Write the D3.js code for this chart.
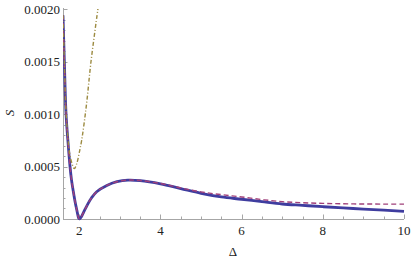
<!DOCTYPE html>
<html>
<head>
<meta charset="utf-8">
<script src="https://cdn.jsdelivr.net/npm/d3@7"></script>
<style>
  html, body { margin: 0; padding: 0; background: #fff; }
  svg { display: block; }
  text { font-family: "Liberation Serif", "DejaVu Serif", serif; }
</style>
</head>
<body>
<svg id="chart" width="411" height="261"></svg>
<script>
// ---- data ----
const xDomain = [1.6, 10];
const yDomain = [0, 0.002];
const xMajorTicks = [2, 4, 6, 8, 10];
const xMinorTicks = [2.5, 3, 3.5, 4.5, 5, 5.5, 6.5, 7, 7.5, 8.5, 9, 9.5];
const yMajorTicks = [0, 0.0005, 0.001, 0.0015, 0.002];
const yTickLabels = ["0.0000", "0.0005", "0.0010", "0.0015", "0.0020"];
const yMinorTicks = [0.0001, 0.0002, 0.0003, 0.0004, 0.0006, 0.0007, 0.0008, 0.0009,
                     0.0011, 0.0012, 0.0013, 0.0014, 0.0016, 0.0017, 0.0018, 0.0019];

const solidX = [1.6, 1.633, 1.675, 1.72, 1.773, 1.81, 1.855, 1.9, 1.94, 1.97, 1.99, 2.01, 2.04, 2.08, 2.13, 2.2, 2.3, 2.43, 2.68, 2.93, 3.2, 3.5, 4, 4.5, 5, 5.5, 6, 6.5, 7, 7.5, 8, 8.5, 9, 9.5, 10];
const solidY = [0.00194, 0.0015, 0.0010, 0.00075, 0.0005, 0.00037, 0.00026, 0.00016, 0.000085, 0.00003, 0.000006, 0.000002, 0.000014, 0.000042, 0.000082, 0.000135, 0.0002, 0.00026, 0.00032, 0.000355, 0.00037, 0.000365, 0.000335, 0.00029, 0.000245, 0.00021, 0.000188, 0.000165, 0.000143, 0.00013, 0.000117, 0.000105, 0.000095, 0.000084, 0.000073];

const dashedX = [1.6, 1.633, 1.675, 1.72, 1.773, 1.81, 1.855, 1.9, 1.94, 1.97, 1.99, 2.01, 2.04, 2.08, 2.13, 2.2, 2.3, 2.43, 2.68, 2.93, 3.2, 3.5, 4, 4.5, 5, 5.5, 6, 6.5, 7, 7.5, 8, 8.5, 9, 9.5, 10];
const dashedY = [0.00194, 0.0015, 0.0010, 0.00075, 0.0005, 0.00037, 0.00026, 0.00016, 0.000085, 0.00003, 0.000006, 0.000002, 0.000014, 0.000042, 0.000082, 0.000135, 0.0002, 0.00026, 0.00032, 0.000355, 0.00037, 0.000366, 0.000338, 0.000296, 0.000258, 0.000232, 0.00021, 0.000185, 0.000165, 0.000155, 0.000149, 0.000145, 0.000143, 0.000142, 0.000142];

const dotDashX = [1.6, 1.633, 1.675, 1.72, 1.76, 1.82, 1.88, 1.94, 2.0, 2.06, 2.12, 2.19, 2.29, 2.46];
const dotDashY = [0.00194, 0.0015, 0.00102, 0.00078, 0.00063, 0.00053, 0.00048, 0.00053, 0.00063, 0.00075, 0.00091, 0.00113, 0.0015, 0.002];

// ---- layout ----
const svg = d3.select("#chart");
const mLeft = 63, mRight = 404, mTop = 9, mBottom = 219;
const x = d3.scaleLinear().domain(xDomain).range([mLeft, mRight]);
const y = d3.scaleLinear().domain(yDomain).range([mBottom, mTop]);

const axisColor = "#a6a6a6";
const textColor = "#222";

svg.append("defs").append("clipPath").attr("id", "clip")
  .append("rect").attr("x", mLeft).attr("y", mTop).attr("width", mRight - mLeft + 2).attr("height", mBottom - mTop + 2);

// axes lines
svg.append("line").attr("x1", mLeft).attr("x2", mRight).attr("y1", mBottom + 0.5).attr("y2", mBottom + 0.5)
  .attr("stroke", axisColor).attr("stroke-width", 1);
svg.append("line").attr("x1", mLeft + 0.5).attr("x2", mLeft + 0.5).attr("y1", mTop - 1).attr("y2", mBottom + 0.5)
  .attr("stroke", axisColor).attr("stroke-width", 1);

// x ticks (inward)
svg.append("g").selectAll("line").data(xMajorTicks).join("line")
  .attr("x1", d => Math.round(x(d)) + 0.5).attr("x2", d => Math.round(x(d)) + 0.5)
  .attr("y1", mBottom).attr("y2", mBottom - 4.5).attr("stroke", axisColor);
svg.append("g").selectAll("line").data(xMinorTicks).join("line")
  .attr("x1", d => Math.round(x(d)) + 0.5).attr("x2", d => Math.round(x(d)) + 0.5)
  .attr("y1", mBottom).attr("y2", mBottom - 2.5).attr("stroke", axisColor);
svg.append("g").selectAll("text").data(xMajorTicks).join("text")
  .attr("x", d => x(d)).attr("y", 235)
  .attr("text-anchor", "middle").attr("font-size", 13)
  .attr("fill", textColor).text(d => d);

// y ticks (inward)
svg.append("g").selectAll("line").data(yMajorTicks).join("line")
  .attr("x1", mLeft).attr("x2", mLeft + 4.5)
  .attr("y1", d => Math.round(y(d)) + 0.5).attr("y2", d => Math.round(y(d)) + 0.5).attr("stroke", axisColor);
svg.append("g").selectAll("line").data(yMinorTicks).join("line")
  .attr("x1", mLeft).attr("x2", mLeft + 2.5)
  .attr("y1", d => Math.round(y(d)) + 0.5).attr("y2", d => Math.round(y(d)) + 0.5).attr("stroke", axisColor);
svg.append("g").selectAll("text").data(yMajorTicks).join("text")
  .attr("x", 60).attr("y", d => y(d) + 4.5)
  .attr("text-anchor", "end").attr("font-size", 13)
  .attr("fill", textColor).text((d, i) => yTickLabels[i]);

// axis labels
svg.append("text").attr("x", 233).attr("y", 256).attr("text-anchor", "middle")
  .attr("font-size", 13).attr("fill", textColor).text("Δ");
svg.append("text").attr("transform", "translate(14,113) rotate(-90)").attr("text-anchor", "middle")
  .attr("font-size", 13).attr("font-style", "italic")
  .attr("fill", textColor).text("S");

// curves
const line = d3.line().x(d => x(d[0])).y(d => y(d[1])).curve(d3.curveCatmullRom.alpha(0.5));
const plot = svg.append("g").attr("clip-path", "url(#clip)");
plot.append("path").datum(d3.zip(solidX, solidY)).attr("d", line)
  .attr("fill", "none").attr("stroke", "#3f3d9f").attr("stroke-width", 2.8).attr("stroke-linejoin", "round");
plot.append("path").datum(d3.zip(dashedX, dashedY)).attr("d", line)
  .attr("fill", "none").attr("stroke", "#a0407a").attr("stroke-width", 1.4).attr("stroke-dasharray", "5,3");
plot.append("path").datum(d3.zip(dotDashX, dotDashY)).attr("d", line)
  .attr("fill", "none").attr("stroke", "#9c8a40").attr("stroke-width", 1.4).attr("stroke-dasharray", "4,2,1,2");
</script>
</body>
</html>
